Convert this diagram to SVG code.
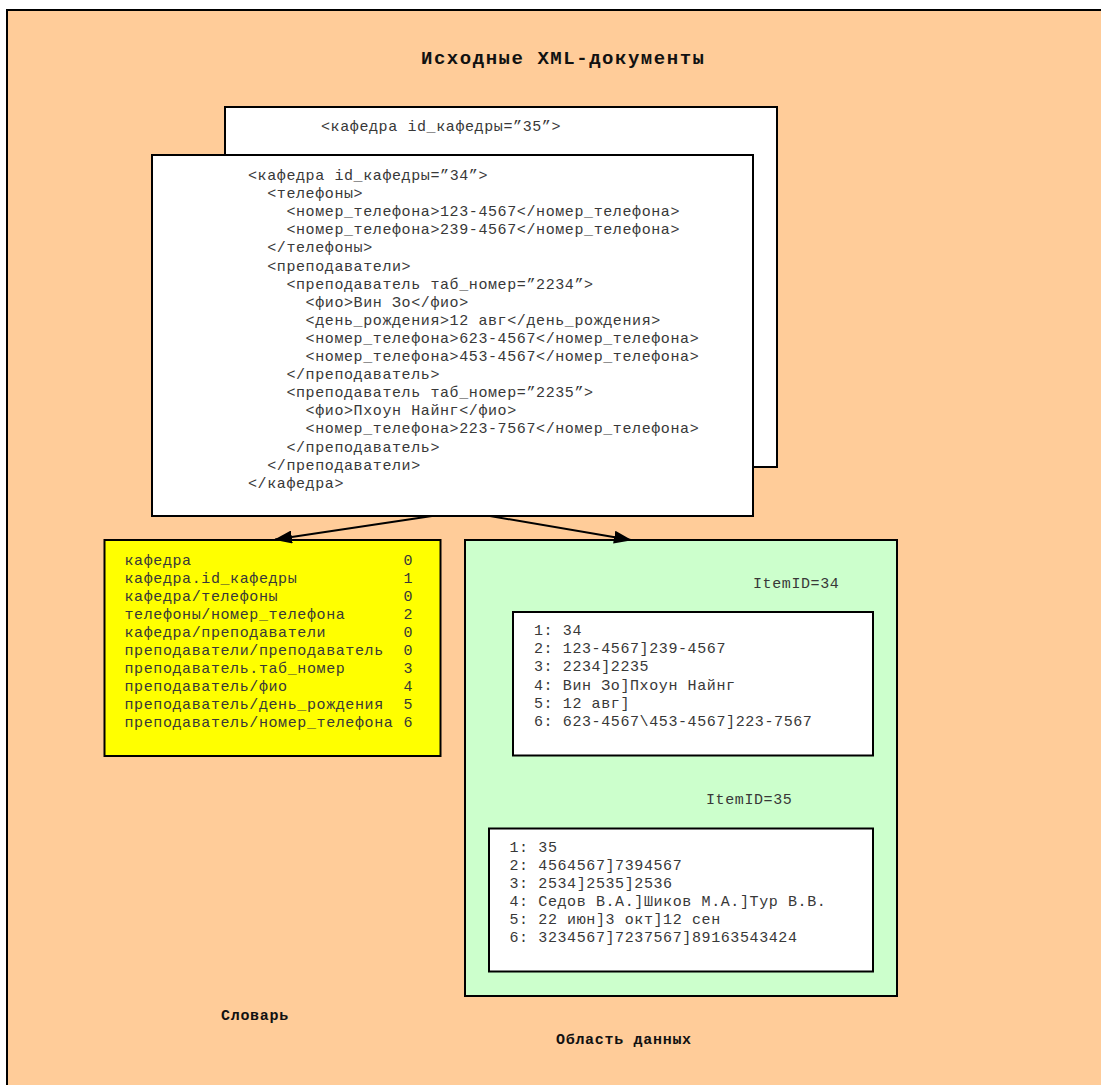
<svg xmlns="http://www.w3.org/2000/svg" width="1101" height="1085" viewBox="0 0 1101 1085">
  <defs>
    <style>
      .box { stroke: #000; stroke-width: 2; }
      .mono { font-family: "Liberation Mono", "Courier New", monospace; font-size: 15px; letter-spacing: 0.6px; fill: #383838; }
      .bold { font-family: "Liberation Mono", "Courier New", monospace; font-weight: bold; fill: #111; }
      .edge { stroke: #000; stroke-width: 2; fill: none; }
    </style>
    <marker id="arrow" viewBox="0 0 18 13" refX="17" refY="6.5" markerWidth="18" markerHeight="13" markerUnits="userSpaceOnUse" orient="auto">
      <path d="M0,0 L18,6.5 L0,13 z" fill="#000"/>
    </marker>
  </defs>

  <!-- background panel -->
  <g id="panel">
    <rect x="7" y="10" width="1110" height="1090" fill="#FFCC99" class="box"/>
    <text class="bold" x="421" y="64" font-size="19" textLength="283" lengthAdjust="spacing">Исходные XML-документы</text>
    <text class="bold" x="221" y="1020" font-size="15" letter-spacing="0.7">Словарь</text>
    <text class="bold" x="556" y="1044" font-size="15" letter-spacing="0.7">Область данных</text>
  </g>

  <!-- second source document (behind) -->
  <g id="doc35">
    <rect x="225" y="107" width="552" height="360" fill="#fff" class="box"/>
    <text class="mono" x="321" y="131">&lt;кафедра id_кафедры=”35”&gt;</text>
  </g>

  <!-- first source document -->
  <g id="doc34">
    <rect x="152" y="155" width="601" height="361" fill="#fff" class="box"/>
    <g class="mono">
      <text x="248" y="180">&lt;кафедра id_кафедры=”34”&gt;</text>
      <text x="267.2" y="198.1">&lt;телефоны&gt;</text>
      <text x="286.4" y="216.2">&lt;номер_телефона&gt;123-4567&lt;/номер_телефона&gt;</text>
      <text x="286.4" y="234.3">&lt;номер_телефона&gt;239-4567&lt;/номер_телефона&gt;</text>
      <text x="267.2" y="252.4">&lt;/телефоны&gt;</text>
      <text x="267.2" y="270.5">&lt;преподаватели&gt;</text>
      <text x="286.4" y="288.6">&lt;преподаватель таб_номер=”2234”&gt;</text>
      <text x="305.6" y="306.7">&lt;фио&gt;Вин Зо&lt;/фио&gt;</text>
      <text x="305.6" y="324.8">&lt;день_рождения&gt;12 авг&lt;/день_рождения&gt;</text>
      <text x="305.6" y="342.9">&lt;номер_телефона&gt;623-4567&lt;/номер_телефона&gt;</text>
      <text x="305.6" y="361">&lt;номер_телефона&gt;453-4567&lt;/номер_телефона&gt;</text>
      <text x="286.4" y="379.1">&lt;/преподаватель&gt;</text>
      <text x="286.4" y="397.2">&lt;преподаватель таб_номер=”2235”&gt;</text>
      <text x="305.6" y="415.3">&lt;фио&gt;Пхоун Найнг&lt;/фио&gt;</text>
      <text x="305.6" y="433.4">&lt;номер_телефона&gt;223-7567&lt;/номер_телефона&gt;</text>
      <text x="286.4" y="451.5">&lt;/преподаватель&gt;</text>
      <text x="267.2" y="469.6">&lt;/преподаватели&gt;</text>
      <text x="248" y="487.7">&lt;/кафедра&gt;</text>
    </g>
  </g>

  <!-- dictionary -->
  <g id="dictionary">
    <rect x="104.5" y="540" width="336" height="216" fill="#FFFF00" class="box"/>
    <g class="mono">
      <text x="124.5" y="564.5">кафедра</text>
      <text x="124.5" y="582.5">кафедра.id_кафедры</text>
      <text x="124.5" y="600.5">кафедра/телефоны</text>
      <text x="124.5" y="618.5">телефоны/номер_телефона</text>
      <text x="124.5" y="636.5">кафедра/преподаватели</text>
      <text x="124.5" y="654.5">преподаватели/преподаватель</text>
      <text x="124.5" y="672.5">преподаватель.таб_номер</text>
      <text x="124.5" y="690.5">преподаватель/фио</text>
      <text x="124.5" y="708.5">преподаватель/день_рождения</text>
      <text x="124.5" y="726.5">преподаватель/номер_телефона</text>
      <text x="403.5" y="564.5">0</text>
      <text x="403.5" y="582.5">1</text>
      <text x="403.5" y="600.5">0</text>
      <text x="403.5" y="618.5">2</text>
      <text x="403.5" y="636.5">0</text>
      <text x="403.5" y="654.5">0</text>
      <text x="403.5" y="672.5">3</text>
      <text x="403.5" y="690.5">4</text>
      <text x="403.5" y="708.5">5</text>
      <text x="403.5" y="726.5">6</text>
    </g>
  </g>

  <!-- data area -->
  <g id="data-area">
    <rect x="465" y="540" width="432" height="456" fill="#CCFFCC" class="box"/>
    <text class="mono" x="753" y="588">ItemID=34</text>
    <text class="mono" x="706" y="804">ItemID=35</text>
  </g>

  <g id="item34">
    <rect x="513" y="612" width="360" height="143.5" fill="#fff" class="box"/>
    <g class="mono">
      <text x="534" y="635">1: 34</text>
      <text x="534" y="653.2">2: 123-4567]239-4567</text>
      <text x="534" y="671.4">3: 2234]2235</text>
      <text x="534" y="689.6">4: Вин Зо]Пхоун Найнг</text>
      <text x="534" y="707.8">5: 12 авг]</text>
      <text x="534" y="726">6: 623-4567\453-4567]223-7567</text>
    </g>
  </g>

  <g id="item35">
    <rect x="489" y="828.5" width="384" height="143" fill="#fff" class="box"/>
    <g class="mono">
      <text x="509.5" y="851.5">1: 35</text>
      <text x="509.5" y="869.6">2: 4564567]7394567</text>
      <text x="509.5" y="887.7">3: 2534]2535]2536</text>
      <text x="509.5" y="905.8">4: Седов В.А.]Шиков М.А.]Тур В.В.</text>
      <text x="509.5" y="923.9">5: 22 июн]3 окт]12 сен</text>
      <text x="509.5" y="942">6: 3234567]7237567]89163543424</text>
    </g>
  </g>

  <!-- connectors -->
  <g id="connectors">
    <line class="edge" x1="432" y1="516" x2="275" y2="539.5" marker-end="url(#arrow)"/>
    <line class="edge" x1="490" y1="516" x2="631" y2="540" marker-end="url(#arrow)"/>
  </g>
</svg>
